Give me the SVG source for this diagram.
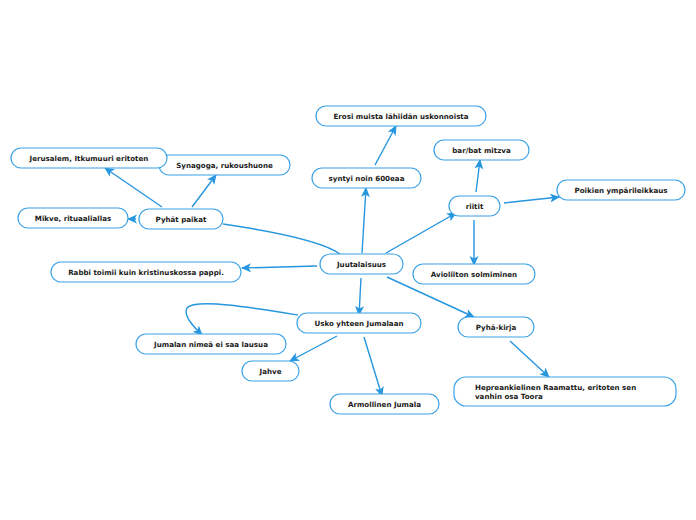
<svg xmlns="http://www.w3.org/2000/svg" width="696" height="520" viewBox="0 0 696 520">
<style>
.n rect{fill:#fff;stroke:#3ba2e8;stroke-width:1.2}
.n text{font-family:"DejaVu Sans",Verdana,sans-serif;font-weight:bold;font-size:7.1px;fill:#1a1a1a;text-anchor:middle}
.c path{fill:none;stroke:#2696df;stroke-width:1.4}
</style>
<defs>
<marker id="a" markerUnits="userSpaceOnUse" markerWidth="10" markerHeight="10" viewBox="0 0 10 10" refX="9" refY="5" orient="auto">
<path d="M0,0.5 L10,5 L0,9.5 L2.5,5 Z" fill="#2696df"/>
</marker>
</defs>
<rect width="696" height="520" fill="#fff"/>
<g class="c">
<path d="M223,224 Q318,238 340,254"/>
<path d="M362,253 L366,188" marker-end="url(#a)"/>
<path d="M375,165 L396,126" marker-end="url(#a)"/>
<path d="M386,253 L456,213" marker-end="url(#a)"/>
<path d="M476,192 L480,160" marker-end="url(#a)"/>
<path d="M504,203 L559,197" marker-end="url(#a)"/>
<path d="M474,220 L474,265" marker-end="url(#a)"/>
<path d="M387,277 L474,317" marker-end="url(#a)"/>
<path d="M510,341 L549,377" marker-end="url(#a)"/>
<path d="M317,266 L242,268" marker-end="url(#a)"/>
<path d="M361,278 L359,315" marker-end="url(#a)"/>
<path d="M298,315 C255,308 195,298 187,308 C183,316 194,327 202,335" marker-end="url(#a)"/>
<path d="M337,336 L290,361" marker-end="url(#a)"/>
<path d="M364,337 L382,396" marker-end="url(#a)"/>
<path d="M162,207 L105,168" marker-end="url(#a)"/>
<path d="M192,207 L216,175" marker-end="url(#a)"/>
<path d="M136,219 L128,219" marker-end="url(#a)"/>
</g>
<g id="n-synagoga" class="n"><rect x="159" y="155" width="131" height="20" rx="10"/><text x="224.5" y="167.5">Synagoga, rukoushuone</text></g>
<g id="n-jerusalem" class="n"><rect x="11" y="148" width="156" height="20" rx="10"/><text x="89" y="160.5">Jerusalem, Itkumuuri eritoten</text></g>
<g id="n-mikve" class="n"><rect x="18" y="208" width="110" height="20" rx="10"/><text x="73" y="220.5">Mikve, rituaaliallas</text></g>
<g id="n-pyhat" class="n"><rect x="139" y="209" width="84" height="20" rx="10"/><text x="181" y="221.5">Pyhät paikat</text></g>
<g id="n-erosi" class="n"><rect x="316" y="106" width="170" height="20" rx="10"/><text x="401" y="118.5">Erosi muista lähiidän uskonnoista</text></g>
<g id="n-syntyi" class="n"><rect x="312" y="168" width="109" height="20" rx="10"/><text x="366.5" y="180.5">syntyi noin 600eaa</text></g>
<g id="n-bar" class="n"><rect x="434" y="140" width="95" height="20" rx="10"/><text x="481.5" y="152.5">bar/bat mitzva</text></g>
<g id="n-poikien" class="n"><rect x="557" y="180" width="128" height="20" rx="10"/><text x="621" y="192.5">Poikien ympärileikkaus</text></g>
<g id="n-riitit" class="n"><rect x="449" y="196" width="51" height="20" rx="10"/><text x="474.5" y="208.5">riitit</text></g>
<g id="n-juutalaisuus" class="n"><rect x="320" y="254" width="83" height="20" rx="10"/><text x="361.5" y="266.5">Juutalaisuus</text></g>
<g id="n-rabbi" class="n"><rect x="51" y="262" width="190" height="20" rx="10"/><text x="146" y="274.5">Rabbi toimii kuin kristinuskossa pappi.</text></g>
<g id="n-avioliiton" class="n"><rect x="413" y="264" width="122" height="20" rx="10"/><text x="474" y="276.5">Avioliiton solmiminen</text></g>
<g id="n-usko" class="n"><rect x="297" y="313" width="124" height="20" rx="10"/><text x="359" y="325.5">Usko yhteen Jumalaan</text></g>
<g id="n-pyhakirja" class="n"><rect x="458" y="317" width="76" height="20" rx="10"/><text x="496" y="329.5">Pyhä-kirja</text></g>
<g id="n-nimea" class="n"><rect x="136" y="334" width="150" height="20" rx="10"/><text x="211" y="346.5">Jumalan nimeä ei saa lausua</text></g>
<g id="n-jahve" class="n"><rect x="242" y="361" width="57" height="20" rx="10"/><text x="270.5" y="373.5">Jahve</text></g>
<g id="n-armollinen" class="n"><rect x="330" y="394" width="109" height="20" rx="10"/><text x="384.5" y="406.5">Armollinen Jumala</text></g>
<g id="n-heprea" class="n"><rect x="454" y="377" width="222" height="29" rx="12"/><text x="475" y="389.5" style="text-anchor:start">Hepreankielinen Raamattu, eritoten sen</text><text x="475" y="399" style="text-anchor:start">vanhin osa Toora</text></g>
</svg>
